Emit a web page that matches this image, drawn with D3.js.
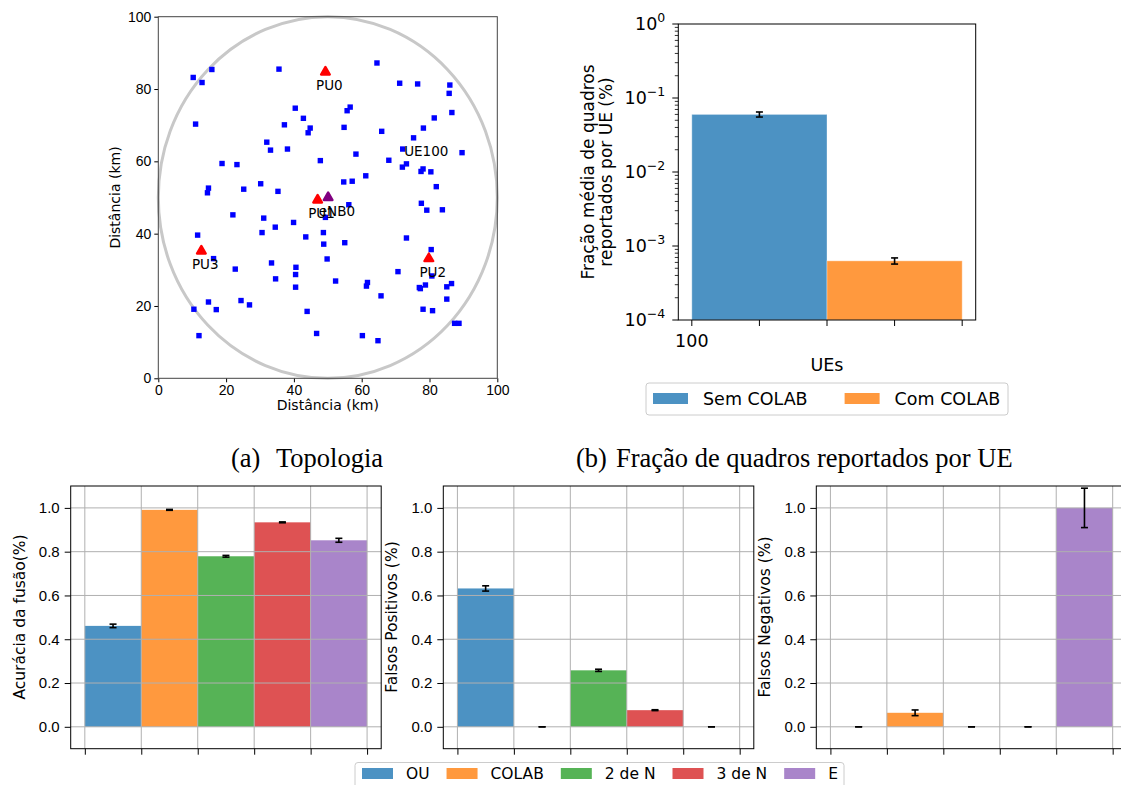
<!DOCTYPE html>
<html>
<head>
<meta charset="utf-8">
<script src="https://cdn.jsdelivr.net/npm/d3@7"></script>
<style>
  body { margin: 0; background: #fff; }
  svg { display: block; }
</style>
</head>
<body>
<script>
// ---- data ----
const ues = [
  [10.3, 83.2], [12.9, 81.8], [15.8, 85.4], [11.0, 70.3], [35.6, 85.5], [64.5, 87.2],
  [71.2, 81.6], [76.5, 81.4], [86.0, 81.1], [85.8, 78.8], [86.6, 73.5], [81.4, 72.0],
  [40.4, 74.7], [42.8, 71.9], [37.2, 70.1], [44.8, 69.2], [44.2, 67.9], [55.7, 74.0],
  [56.6, 75.0], [54.8, 69.4], [65.9, 68.3], [75.3, 66.5], [78.2, 69.2], [72.1, 63.4],
  [89.6, 62.4], [68.0, 60.3], [73.2, 59.3], [72.0, 58.4], [78.1, 57.9], [77.5, 57.2],
  [80.4, 57.1], [82.0, 53.0], [58.3, 62.0], [61.2, 56.0], [54.7, 54.3], [57.2, 54.5],
  [47.8, 60.2], [32.0, 65.3], [33.1, 63.1], [38.1, 63.4], [18.8, 59.4], [23.2, 59.1],
  [30.2, 53.8], [35.3, 51.7], [25.2, 52.3], [14.8, 52.6], [14.5, 51.3], [22.0, 45.2],
  [31.1, 44.3], [34.5, 41.8], [30.6, 40.3], [39.9, 43.1], [43.5, 39.1], [48.7, 40.3],
  [48.8, 37.1], [49.3, 44.5], [56.2, 48.0], [55.0, 37.5], [49.8, 33.0], [77.6, 48.4],
  [79.2, 46.5], [83.8, 46.6], [73.2, 38.8], [80.5, 35.6], [11.6, 39.6], [16.3, 33.1],
  [22.7, 30.2], [33.4, 31.9], [34.6, 27.5], [40.6, 30.7], [40.5, 28.7], [40.5, 25.2],
  [52.3, 26.9], [61.7, 26.5], [61.4, 25.5], [65.7, 22.8], [70.7, 29.5], [80.7, 28.3],
  [77.0, 25.1], [77.3, 24.8], [78.8, 25.8], [85.1, 25.3], [86.5, 26.2], [85.1, 21.9],
  [78.1, 19.1], [80.9, 18.7], [87.4, 15.2], [88.7, 15.2], [10.5, 19.1], [14.8, 21.1],
  [17.1, 19.0], [24.4, 21.5], [26.9, 20.3], [43.9, 18.5], [12.0, 11.8], [46.7, 12.4],
  [60.2, 11.8], [64.8, 10.4]
];
const ueLabel = { name: "UE100", x: 75.3, y: 66.5 };
const puNames = ["PU0", "PU1", "PU2", "PU3"];
const puX = [49.3, 47.0, 79.8, 12.7];
const puY = [84.7, 49.3, 33.1, 35.2];
const enb = { name: "eNB0", x: 50.1, y: 50.0 };

const frameSeries = ["Sem COLAB", "Com COLAB"];
const frameMean = [0.060, 0.00063];
const frameErr = [0.0047, 0.00006];
const frameCategory = "100";

const methods = ["OU", "COLAB", "2 de N", "3 de N", "E"];
const accuracy = [0.461, 0.991, 0.779, 0.934, 0.852];
const accuracyErr = [0.008, 0.002, 0.004, 0.002, 0.009];
const falsePos = [0.632, 0, 0.258, 0.076, 0];
const falsePosErr = [0.012, 0, 0.005, 0.002, 0];
const falseNeg = [0, 0.064, 0, 0, 1.0];
const falseNegErr = [0, 0.013, 0, 0, 0.09];

const colors = ["#4c92c3", "#ff993e", "#56b356", "#de5253", "#a985ca"];

const svg = d3.select("body").append("svg")
    .attr("width", 1121).attr("height", 785)
    .style("font-family", "'DejaVu Sans', sans-serif");

function styleAxis(g, size) {
    g.select(".domain").remove();
    g.selectAll("line").attr("stroke", "#000");
    g.selectAll("text").attr("fill", "#000").style("font-size", size + "px");
}

// ---- (a) topology ----
const tx = d3.scaleLinear().domain([0, 100]).range([158.3, 497.3]);
const ty = d3.scaleLinear().domain([0, 100]).range([378.3, 16.7]);
const topo = svg.append("g");

topo.append("ellipse")
    .attr("cx", tx(50)).attr("cy", ty(50))
    .attr("rx", tx(100) - tx(50)).attr("ry", ty(0) - ty(50))
    .attr("fill", "none").attr("stroke", "#c8c8c8").attr("stroke-width", 3);

topo.selectAll("rect.ue").data(ues).enter().append("rect")
    .attr("class", "ue")
    .attr("x", d => tx(d[0]) - 2.7).attr("y", d => ty(d[1]) - 2.7)
    .attr("width", 5.4).attr("height", 5.4)
    .attr("fill", "#0000ff");

const tri = d3.symbol(d3.symbolTriangle).size(34);
const pus = puNames.map((n, i) => ({ name: n, x: puX[i], y: puY[i] }));
topo.selectAll("path.pu").data(pus).enter().append("path")
    .attr("class", "pu")
    .attr("d", tri)
    .attr("transform", d => `translate(${tx(d.x)},${ty(d.y)})`)
    .attr("fill", "#ff0000").attr("stroke", "#ff0000")
    .attr("stroke-width", 2.2).attr("stroke-linejoin", "round");
topo.append("path")
    .attr("d", tri)
    .attr("transform", `translate(${tx(enb.x)},${ty(enb.y)})`)
    .attr("fill", "#800080").attr("stroke", "#800080")
    .attr("stroke-width", 2.2).attr("stroke-linejoin", "round");

// every annotation sits just below-left of its marker
const labels = pus.concat([enb, ueLabel]);
topo.selectAll("text.lab").data(labels).enter().append("text")
    .attr("class", "lab")
    .attr("x", d => tx(d.x) - 9.4).attr("y", d => ty(d.y) + 18)
    .style("font-size", "13.5px").text(d => d.name);

topo.append("g").attr("transform", `translate(0,${ty(0)})`)
    .call(d3.axisBottom(tx).tickValues(d3.range(0, 101, 20)).tickSize(4).tickPadding(3))
    .call(g => styleAxis(g, 14));
topo.append("g").attr("transform", `translate(${tx(0)},0)`)
    .call(d3.axisLeft(ty).tickValues(d3.range(0, 101, 20)).tickSize(4).tickPadding(3))
    .call(g => styleAxis(g, 14));
topo.append("rect")
    .attr("x", tx(0)).attr("y", ty(100))
    .attr("width", tx(100) - tx(0)).attr("height", ty(0) - ty(100))
    .attr("fill", "none").attr("stroke", "#444").attr("stroke-width", 1);
topo.append("text").attr("x", (tx(0) + tx(100)) / 2).attr("y", 410)
    .attr("text-anchor", "middle").style("font-size", "14px").text("Distância (km)");
topo.append("text").attr("transform", `translate(120,${ty(50)}) rotate(-90)`)
    .attr("text-anchor", "middle").style("font-size", "14px").text("Distância (km)");

// ---- (b) frames reported ----
const bx = d3.scaleLinear().domain([-0.1, 2.1]).range([678.3, 975.7]);
const by = d3.scaleLog().domain([1e-4, 1]).range([320, 24]);
const fb = svg.append("g");

fb.selectAll("rect.bar").data(frameMean).enter().append("rect")
    .attr("x", (d, i) => bx(i)).attr("width", bx(1) - bx(0))
    .attr("y", d => by(d)).attr("height", d => by(1e-4) - by(d))
    .attr("fill", (d, i) => colors[i])
    .attr("stroke", "#fff").attr("stroke-opacity", 0.35);

function errorBars(g, xs, ys, es, yScale, lw) {
    const e = g.append("g").attr("stroke", "#000").attr("stroke-width", lw);
    xs.forEach((x, i) => {
        const y0 = yScale(ys[i] - es[i]), y1 = yScale(ys[i] + es[i]);
        e.append("line").attr("x1", x).attr("x2", x).attr("y1", y0).attr("y2", y1);
        e.append("line").attr("x1", x - 3.5).attr("x2", x + 3.5).attr("y1", y0).attr("y2", y0);
        e.append("line").attr("x1", x - 3.5).attr("x2", x + 3.5).attr("y1", y1).attr("y2", y1);
    });
}
errorBars(fb, frameMean.map((d, i) => bx(i + 0.5)), frameMean, frameErr, by, 1.6);

// log y ticks
const major = [1e-4, 1e-3, 1e-2, 1e-1, 1];
const minor = [];
for (let p = -4; p < 0; p++) for (let m = 2; m <= 9; m++) minor.push(m * Math.pow(10, p));
fb.append("g").selectAll("line").data(minor).enter().append("line")
    .attr("x1", bx.range()[0] - 3.5).attr("x2", bx.range()[0])
    .attr("y1", d => by(d)).attr("y2", d => by(d)).attr("stroke", "#000").attr("stroke-width", 0.8);
fb.append("g").selectAll("line").data(major).enter().append("line")
    .attr("x1", bx.range()[0] - 6).attr("x2", bx.range()[0])
    .attr("y1", d => by(d)).attr("y2", d => by(d)).attr("stroke", "#000");
const ylab = fb.append("g").selectAll("text").data(major).enter().append("text")
    .attr("x", bx.range()[0] - 13).attr("y", d => by(d) + 6)
    .attr("text-anchor", "end").style("font-size", "17.5px");
ylab.append("tspan").text("10");
ylab.append("tspan").attr("dy", -8).style("font-size", "12.5px")
    .text(d => d === 1 ? "0" : "\u2212" + Math.round(-Math.log10(d)));

const xt = [0, 0.5, 1, 1.5, 2];
fb.append("g").selectAll("line").data(xt).enter().append("line")
    .attr("x1", d => bx(d)).attr("x2", d => bx(d))
    .attr("y1", by.range()[0]).attr("y2", by.range()[0] + 6).attr("stroke", "#000");
fb.append("text").attr("x", bx(0)).attr("y", 347).attr("text-anchor", "middle")
    .style("font-size", "17.5px").text(frameCategory);
fb.append("rect")
    .attr("x", bx.range()[0]).attr("y", 24)
    .attr("width", bx.range()[1] - bx.range()[0]).attr("height", 296)
    .attr("fill", "none").attr("stroke", "#000");
fb.append("text").attr("x", bx(1)).attr("y", 371).attr("text-anchor", "middle")
    .style("font-size", "17.5px").text("UEs");
const bl = fb.append("text").attr("transform", `translate(588,172) rotate(-90)`)
    .attr("text-anchor", "middle").style("font-size", "17px");
bl.append("tspan").attr("x", 0).attr("dy", 6).text("Fração média de quadros");
bl.append("tspan").attr("x", 0).attr("dy", 17.5).text("reportados por UE (%)");

// legend (b)
const lgb = fb.append("g");
lgb.append("rect").attr("x", 646).attr("y", 383).attr("width", 362).attr("height", 32)
    .attr("rx", 3).attr("fill", "#fff").attr("stroke", "#ccc");
let lx = 653;
frameSeries.forEach((s, i) => {
    lgb.append("rect").attr("x", lx).attr("y", 393).attr("width", 35).attr("height", 11)
        .attr("fill", colors[i]);
    const t = lgb.append("text").attr("x", lx + 50).attr("y", 405)
        .style("font-size", "17.5px").text(s);
    lx = lx + 50 + t.node().getComputedTextLength() + 37;
});

// ---- captions ----
const cap = svg.append("g").style("font-family", "'Liberation Serif', 'Times New Roman', serif")
    .style("font-size", "26.5px");
cap.append("text").attr("x", 231).attr("y", 467).text("(a)");
cap.append("text").attr("x", 276).attr("y", 467).text("Topologia");
cap.append("text").attr("x", 576).attr("y", 467).text("(b)");
cap.append("text").attr("x", 616).attr("y", 467).text("Fração de quadros reportados por UE");

// ---- (c) bottom panels ----
const py = d3.scaleLinear().domain([-0.1, 1.1]).range([748.7, 486]);

function panel(left, vals, errs, label) {
    const px = d3.scaleLinear().domain([-0.25, 5.25]).range([left, left + 310.5]);
    const g = svg.append("g");
    g.selectAll("rect.bar").data(vals).enter().append("rect")
        .attr("x", (d, i) => px(i)).attr("width", px(1) - px(0))
        .attr("y", d => py(d)).attr("height", d => py(0) - py(d))
        .attr("fill", (d, i) => colors[i]);
    const grid = g.append("g").attr("stroke", "#b0b0b0").attr("stroke-width", 1);
    d3.range(0, 1.01, 0.2).forEach(v => grid.append("line")
        .attr("x1", px.range()[0]).attr("x2", px.range()[1]).attr("y1", py(v)).attr("y2", py(v)));
    d3.range(0, 6).forEach(v => grid.append("line")
        .attr("x1", px(v)).attr("x2", px(v)).attr("y1", py.range()[1]).attr("y2", py.range()[0]));
    errorBars(g, vals.map((d, i) => px(i + 0.5)), vals, errs, py, 1.6);

    g.append("g").attr("transform", `translate(${left},0)`)
        .call(d3.axisLeft(py).tickValues(d3.range(0, 1.01, 0.2)).tickFormat(d3.format(".1f"))
            .tickSize(6).tickPadding(5))
        .call(a => styleAxis(a, 15));
    g.append("g").attr("transform", `translate(0,${py.range()[0]})`)
        .call(d3.axisBottom(px).tickValues(d3.range(0, 6)).tickFormat("").tickSize(6))
        .call(a => styleAxis(a, 15));
    g.append("rect").attr("x", left).attr("y", py.range()[1])
        .attr("width", 310.5).attr("height", py.range()[0] - py.range()[1])
        .attr("fill", "none").attr("stroke", "#000");
    g.append("text").attr("transform", `translate(${left - 51},617) rotate(-90)`)
        .attr("text-anchor", "middle").attr("dy", 5).style("font-size", "15.5px").text(label);
}
panel(70.7, accuracy, accuracyErr, "Acurácia da fusão(%)");
panel(443.3, falsePos, falsePosErr, "Falsos Positivos (%)");
panel(816.3, falseNeg, falseNegErr, "Falsos Negativos (%)");

// bottom legend
const lg = svg.append("g");
lg.append("rect").attr("x", 355).attr("y", 762.5).attr("width", 489).attr("height", 32)
    .attr("rx", 3).attr("fill", "#fff").attr("stroke", "#ccc");
let bxpos = 362;
methods.forEach((m, i) => {
    lg.append("rect").attr("x", bxpos).attr("y", 768).attr("width", 31).attr("height", 11)
        .attr("fill", colors[i]);
    const t = lg.append("text").attr("x", bxpos + 44).attr("y", 779)
        .style("font-size", "15.5px").text(m);
    bxpos = bxpos + 44 + t.node().getComputedTextLength() + 17;
});
</script>
</body>
</html>
